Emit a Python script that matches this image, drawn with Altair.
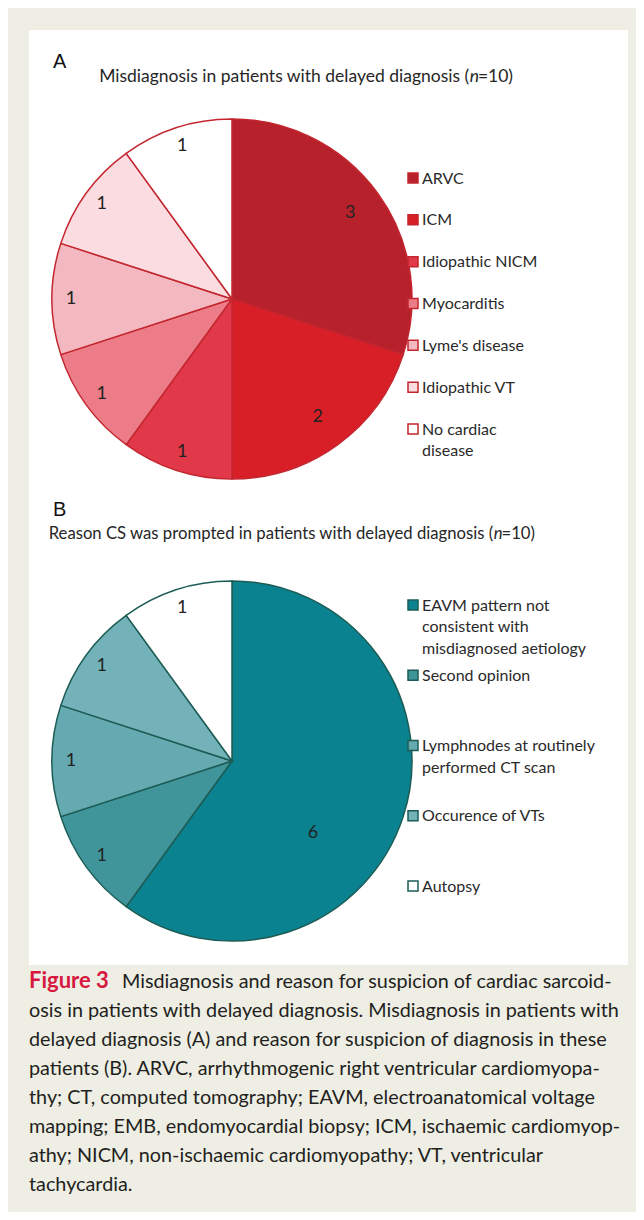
import altair as alt
import pandas as pd

# ---------------- data ----------------
a_cats = ["ARVC", "ICM", "Idiopathic NICM", "Myocarditis", "Lyme's disease",
          "Idiopathic VT", "No cardiac disease"]
a_counts = [3, 2, 1, 1, 1, 1, 1]
a_colors = ["#B7212B", "#D81E27", "#E2394A", "#EC7D88", "#F4B8C1", "#FADCE1", "#FFFFFF"]
a_legend = ["ARVC", "ICM", "Idiopathic NICM", "Myocarditis", "Lyme's disease",
            "Idiopathic VT", "No cardiac\ndisease"]

b_cats = ["EAVM pattern not consistent with misdiagnosed aetiology", "Second opinion",
          "Lymphnodes at routinely performed CT scan", "Occurence of VTs", "Autopsy"]
b_counts = [6, 1, 1, 1, 1]
b_colors = ["#0B8290", "#3F9599", "#66AAB1", "#74B2B9", "#FFFFFF"]
b_legend = ["EAVM pattern not\nconsistent with\nmisdiagnosed aetiology", "Second opinion",
            "Lymphnodes at routinely\nperformed CT scan", "Occurence of VTs", "Autopsy"]

a_letter = "A"
a_title = "Misdiagnosis in patients with delayed diagnosis ("
b_letter = "B"
b_title = "Reason CS was prompted in patients with delayed diagnosis ("
n_part = "n"
n_tail = "=10)"

caption_head = "Figure 3"
caption_first = "Misdiagnosis and reason for suspicion of cardiac sarcoid-"
caption_lines = [
    "osis in patients with delayed diagnosis. Misdiagnosis in patients with",
    "delayed diagnosis (A) and reason for suspicion of diagnosis in these",
    "patients (B). ARVC, arrhythmogenic right ventricular cardiomyopa-",
    "thy; CT, computed tomography; EAVM, electroanatomical voltage",
    "mapping; EMB, endomyocardial biopsy; ICM, ischaemic cardiomyop-",
    "athy; NICM, non-ischaemic cardiomyopathy; VT, ventricular",
    "tachycardia.",
]

BG = "#EEEEE4"
W = 628
FONT = "Lato"


def one(text, x, y, **props):
    return alt.Chart(alt.Data(values=[{}])).mark_text(**props).encode(
        x=alt.value(x), y=alt.value(y), text=alt.value(text))


def white_box(y0, y1):
    return alt.Chart(alt.Data(values=[{}])).mark_rect(color="white").encode(
        x=alt.value(21), x2=alt.value(620), y=alt.value(y0), y2=alt.value(y1))


def pie_panel(cats, counts, colors, legend, stroke, cy, rows, big_r, big_off,
              letter, letter_y, title, title_end, title_y, title_fs, box):
    df = pd.DataFrame({"cat": cats, "count": counts,
                       "idx": list(range(len(cats))), "legend": legend})
    base = alt.Chart(df)
    color = alt.Color("cat:N", scale=alt.Scale(domain=cats, range=colors), legend=None)
    theta = alt.Theta("count:Q", stack=True)
    order = alt.Order("idx:Q")
    cx = 224
    arcs = base.mark_arc(outerRadius=180, stroke=stroke, strokeWidth=1.5).encode(
        theta=theta, color=color, order=order, x=alt.value(cx), y=alt.value(cy))
    lab_small = base.mark_text(radius=161, fontSize=18, font=FONT, color="#222222").encode(
        theta=theta, order=order, detail="cat:N", text="count:Q",
        x=alt.value(cx), y=alt.value(cy),
        opacity=alt.condition("datum.count == 1", alt.value(1), alt.value(0)))
    lab_big = base.mark_text(radius=big_r, thetaOffset=big_off, fontSize=18, font=FONT,
                             color="#222222").encode(
        theta=theta, order=order, detail="cat:N", text="count:Q",
        x=alt.value(cx), y=alt.value(cy),
        opacity=alt.condition("datum.count > 1", alt.value(1), alt.value(0)))
    yscale = alt.Y("cat:N", scale=alt.Scale(domain=cats, type="point", range=rows, padding=0),
                   axis=None)
    squares = base.mark_square(size=100, strokeWidth=1.5, stroke=stroke, opacity=1).encode(
        x=alt.value(405), y=yscale, color=color)
    texts = base.mark_text(align="left", baseline="alphabetic", dy=5.5, fontSize=16, font=FONT,
                           color="#2A2A2A", lineBreak="\n", lineHeight=21.5).encode(
        x=alt.value(414), y=yscale, text="legend:N")
    letter_m = one(letter, 45, letter_y, align="left", fontSize=20, font="Liberation Sans",
                   color="#111111")
    tail_w = 1.94 * title_fs
    n_w = 0.56 * title_fs
    t_tail = one(n_tail, title_end, title_y, align="right", fontSize=title_fs, font=FONT,
                 color="#262626")
    t_n = one(n_part, title_end - tail_w, title_y, align="right", fontSize=title_fs, font=FONT,
              fontStyle="italic", color="#262626")
    t_main = one(title, title_end - tail_w - n_w, title_y, align="right", fontSize=title_fs,
                 font=FONT, color="#262626")
    return alt.layer(white_box(*box), arcs, lab_small, lab_big, squares, texts,
                     letter_m, t_main, t_n, t_tail).properties(width=W, height=480)


panel_a = pie_panel(a_cats, a_counts, a_colors, a_legend, "#C3262F", 291, [170, 421],
                    146, 0, a_letter, 54, a_title, 505, 69, 17.5, (22, 480))
panel_b = pie_panel(b_cats, b_counts, b_colors, b_legend, "#1D5C55", 273, [117, 398],
                    108, 0.41, b_letter, 22, b_title, 527, 46, 16.7, (0, 477))

cap_df = pd.DataFrame({"i": list(range(len(caption_lines))), "line": caption_lines})
CAP_FS = 19.8
cap_text = alt.Chart(cap_df).mark_text(align="left", baseline="alphabetic", fontSize=CAP_FS,
                                       font=FONT, color="#231F20").encode(
    x=alt.value(21),
    y=alt.Y("i:O", scale=alt.Scale(type="point", range=[49, 223], padding=0), axis=None),
    text="line:N")
cap_first = one(caption_first, 114, 20, align="left", baseline="alphabetic", fontSize=CAP_FS,
                font=FONT, color="#231F20")
cap_head = one(caption_head, 21, 20, align="left", baseline="alphabetic", fontSize=22,
               font=FONT, fontWeight="bold", color="#D7193F")
panel_c = alt.layer(cap_text, cap_first, cap_head).properties(width=W, height=244)

chart = alt.vconcat(panel_a, panel_b, panel_c, spacing=0).resolve_scale(
    color="independent", theta="independent", y="independent"
).properties(
    padding=0, background=BG
).configure_view(stroke=None)

chart.save("out.html", embed_options={"renderer": "svg", "actions": False})
